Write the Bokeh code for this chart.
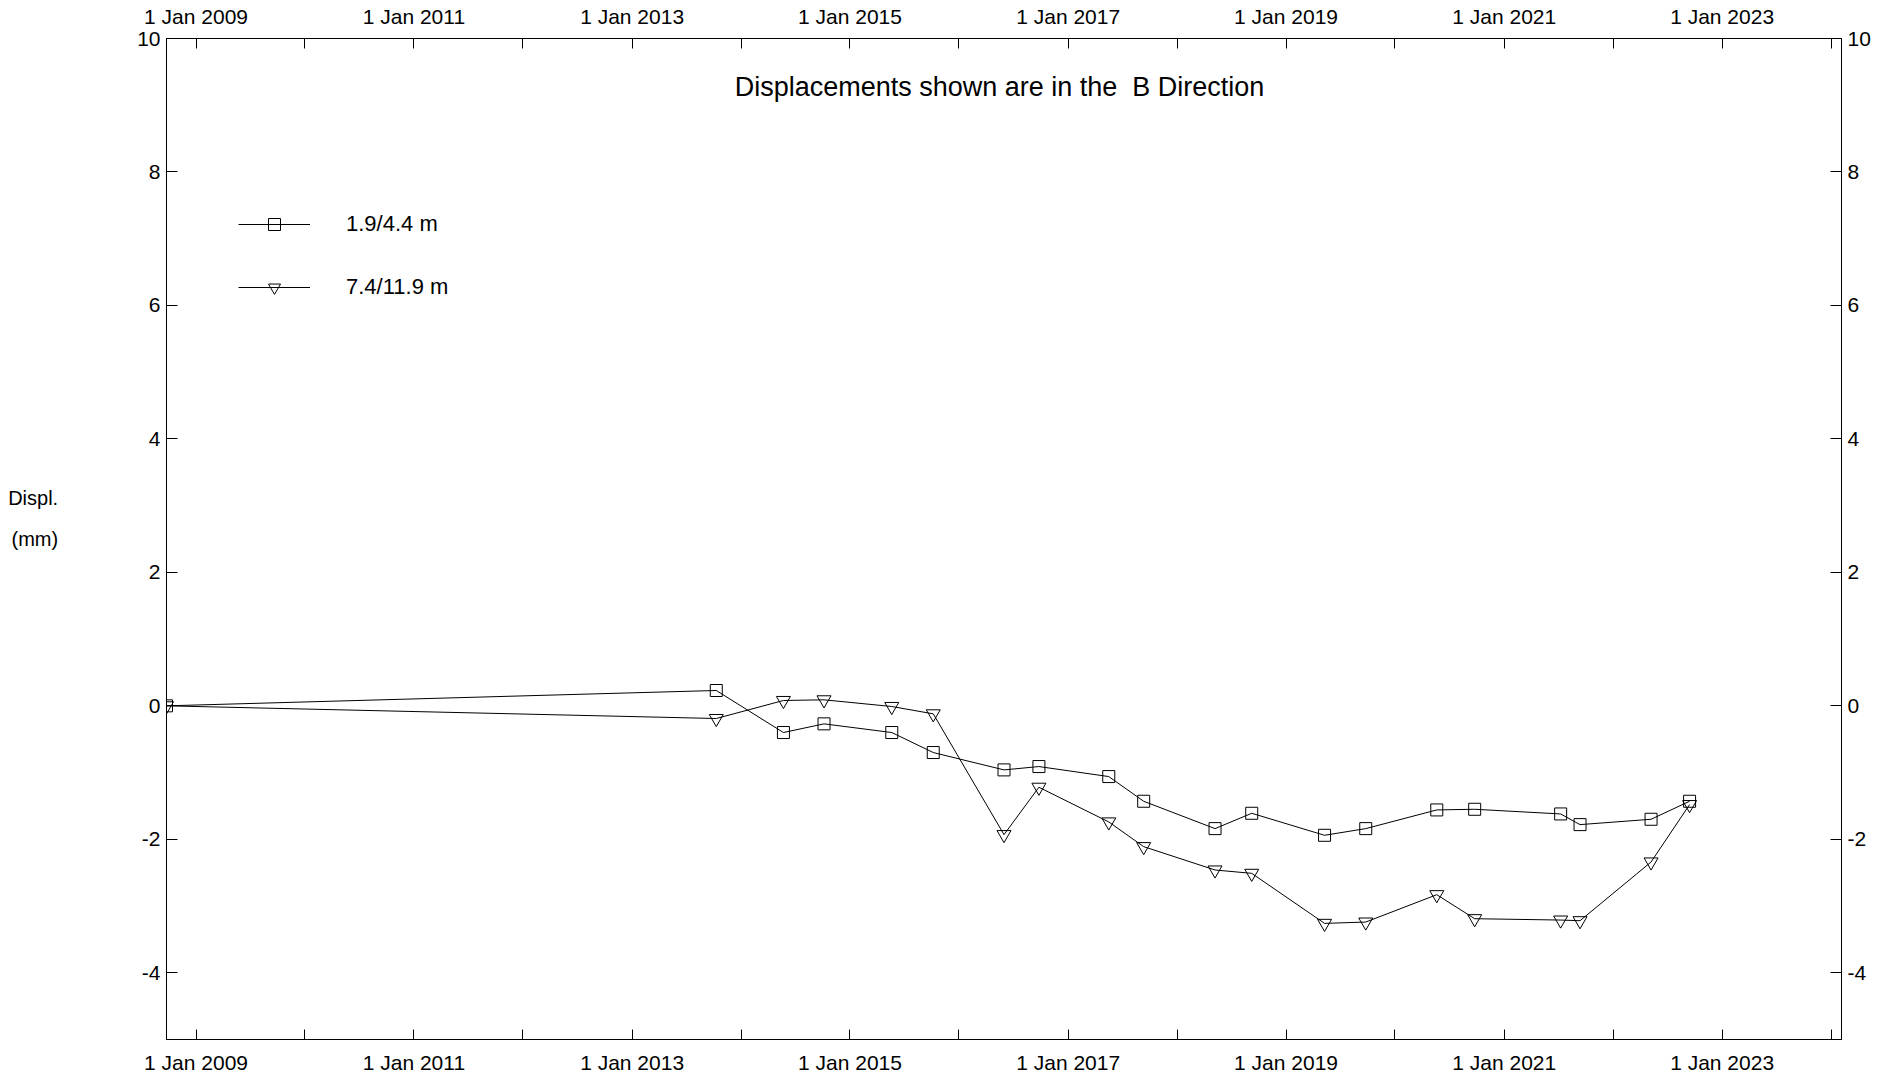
import pandas as pd
from bokeh.plotting import figure
from bokeh.models import (Range1d, FixedTicker, LinearAxis, DatetimeAxis, Label,
                          Legend, LegendItem, ColumnDataSource)
from bokeh.embed import file_html
from bokeh.resources import INLINE

# ---------------- data ----------------
dates = ["2008-09-24", "2013-10-10", "2014-05-23", "2014-10-06", "2015-05-21",
         "2015-10-07", "2016-05-31", "2016-09-25", "2017-05-17", "2017-09-11",
         "2018-05-08", "2018-09-08", "2019-05-10", "2019-09-25", "2020-05-20",
         "2020-09-24", "2021-07-09", "2021-09-12", "2022-05-08", "2022-09-14"]
displ_a = [0.0, 0.23, -0.40, -0.27, -0.40, -0.70, -0.96, -0.91, -1.06, -1.43,
           -1.84, -1.61, -1.94, -1.84, -1.56, -1.55, -1.62, -1.78, -1.70, -1.43]
displ_b = [0.0, -0.19, 0.08, 0.09, -0.01, -0.12, -1.93, -1.22, -1.74, -2.11,
           -2.46, -2.51, -3.26, -3.24, -2.83, -3.19, -3.21, -3.22, -2.34, -1.48]
series_names = ["1.9/4.4 m", "7.4/11.9 m"]

x_tick_years = list(range(2009, 2025))
x_tick_labels = ["1 Jan %d" % y if y % 2 == 1 else "" for y in x_tick_years]
y_ticks = [-4, -2, 0, 2, 4, 6, 8, 10]
y_tick_labels = ["-4", "-2", "0", "2", "4", "6", "8", "10"]
x_start, x_end = "2008-09-24", "2024-02-05"
y_start, y_end = -5, 10
title_text = "Displacements shown are in the \u00a0B Direction"
ylabel_text = "Displ.\n(mm)\n "

# ---------------- figure ----------------
FONT = "Liberation Sans"
to_ms = lambda s: pd.Timestamp(s).value // 10**6

src = ColumnDataSource(dict(x=pd.to_datetime(dates), a=displ_a, b=displ_b))

p = figure(width=1880, height=1076, output_backend="svg", toolbar_location=None,
           x_axis_type="datetime",
           x_range=Range1d(to_ms(x_start), to_ms(x_end)),
           y_range=Range1d(y_start, y_end),
           min_border_left=166, min_border_right=39, min_border_top=38,
           min_border_bottom=36)
p.xgrid.visible = False
p.ygrid.visible = False
p.outline_line_color = "black"
p.outline_line_width = 1
p.background_fill_color = "white"
p.border_fill_color = "white"

x_tick_ms = [to_ms("%d-01-01" % y) for y in x_tick_years]
x_over = {int(t): lab for t, lab in zip(x_tick_ms, x_tick_labels)}
y_over = {t: lab for t, lab in zip(y_ticks, y_tick_labels)}


def style_axis(ax, standoff, tick_in):
    ax.major_tick_in = tick_in
    ax.major_tick_out = 0
    ax.minor_tick_in = 0
    ax.minor_tick_out = 0
    ax.axis_line_color = "black"
    ax.major_tick_line_color = "black"
    ax.major_label_text_font = FONT
    ax.major_label_text_font_size = "21px"
    ax.major_label_text_color = "black"
    ax.major_label_standoff = standoff


# bottom / top
p.xaxis.ticker = FixedTicker(ticks=x_tick_ms)
p.xaxis.major_label_overrides = x_over
style_axis(p.xaxis[0], 11, 10)
top = DatetimeAxis(ticker=FixedTicker(ticks=x_tick_ms), major_label_overrides=x_over)
style_axis(top, 11, 10)
p.add_layout(top, "above")

# left / right
p.yaxis.ticker = FixedTicker(ticks=y_ticks)
p.yaxis.major_label_overrides = y_over
style_axis(p.yaxis[0], 6, 11)
right = LinearAxis(ticker=FixedTicker(ticks=y_ticks), major_label_overrides=y_over)
style_axis(right, 6, 11)
p.add_layout(right, "right")

ya = p.yaxis[0]
ya.axis_label = ylabel_text
ya.axis_label_orientation = "horizontal"
ya.axis_label_text_font = FONT
ya.axis_label_text_font_size = "20px"
ya.axis_label_text_font_style = "normal"
ya.axis_label_text_color = "black"
ya.axis_label_text_line_height = 1.85
ya.axis_label_standoff = 76

# series
la = p.line("x", "a", source=src, line_color="black", line_width=1)
sa = p.scatter("x", "a", source=src, marker="square", size=12,
               line_color="black", fill_color=None, line_width=1)
lb = p.line("x", "b", source=src, line_color="black", line_width=1)
sb = p.scatter("x", "b", source=src, marker="inverted_triangle", size=14,
               line_color="black", fill_color=None, line_width=1)

legend = Legend(items=[LegendItem(label=series_names[0], renderers=[la, sa]),
                       LegendItem(label=series_names[1], renderers=[lb, sb])],
                location=(72, 737), glyph_width=72, glyph_height=30,
                label_height=30, spacing=33, padding=0, margin=0,
                label_standoff=36, label_text_font=FONT,
                label_text_font_size="22px", label_text_color="black",
                label_text_baseline="alphabetic",
                border_line_alpha=0, background_fill_alpha=0)
p.add_layout(legend)

p.add_layout(Label(x=833, y=953, x_units="screen", y_units="screen",
                   text=title_text, text_align="center", text_baseline="middle",
                   text_font=FONT, text_font_size="27px", text_color="black"))

open("out.html", "w").write(file_html(p, INLINE))
